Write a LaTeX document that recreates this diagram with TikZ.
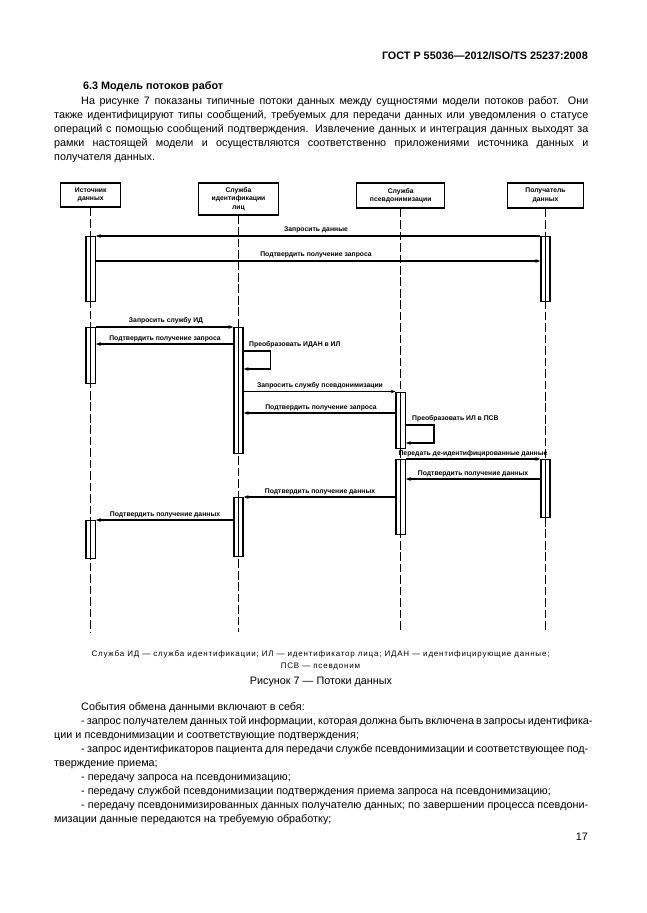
\documentclass[tikz,border=0pt]{standalone}
\usepackage{fontspec}
\setmainfont{Liberation Sans}
\usetikzlibrary{arrows.meta,calc}
\newcommand\dfont{\fontsize{6.3}{7.8}\selectfont\bfseries}
\newcommand\bodyfont{\fontsize{10}{12}\selectfont}
\newcommand\jl[2]{\makebox[#1][s]{#2}}
\tikzset{
  lbl/.style={font=\dfont, inner sep=0pt, anchor=base},
  lblw/.style={font=\dfont, inner sep=0pt, anchor=base west},
  head/.style={draw, line width=1.3pt, font=\dfont, align=center, inner sep=0pt},
  life/.style={line width=1.2pt, dash pattern=on 8pt off 2.6pt},
  bar/.style={draw, fill=white, line width=1.3pt, minimum width=2.93mm, inner sep=0pt, anchor=north},
  barmid/.style={line width=0.6pt},
  msg/.style={line width=1.2pt, -{Stealth[length=1.6mm,width=1.2mm]}},
  bodyw/.style={font=\bodyfont, inner sep=0pt, anchor=base west},
  bodyc/.style={font=\bodyfont, inner sep=0pt, anchor=base},
  bodye/.style={font=\bodyfont, inner sep=0pt, anchor=base east},
  legend/.style={inner sep=0pt, anchor=base, font=\fontsize{7.4}{8}\selectfont\addfontfeatures{LetterSpace=10}},
}
\begin{document}
\begin{tikzpicture}[x=0.3252mm,y=-0.3252mm]
\useasboundingbox (0,0) rectangle (646,913);
\fill[white] (0,0) rectangle (646,913);

% ---------- page text ----------
\node[bodye, font=\bodyfont\bfseries] (hdr) at (588,59) {ГОСТ Р 55036—2012/ISO/TS 25237:2008};
\node[bodyw, font=\bodyfont\bfseries] (sec) at (83,89.5) {6.3 Модель потоков работ};
\node[bodyw] (p1) at (81,104.5) {\jl{164.9mm}{На  рисунке 7 показаны типичные потоки данных между сущностями модели потоков работ. Они}};
\node[bodyw] (p2) at (54,118.5) {\jl{173.7mm}{также  идентифицируют типы сообщений, требуемых для передачи данных или уведомления о статусе}};
\node[bodyw] (p3) at (54,132.5) {\jl{173.7mm}{операций с помощью сообщений подтверждения. Извлечение данных и интеграция данных выходят за}};
\node[bodyw] (p4) at (54,146.5) {\jl{173.7mm}{рамки настоящей модели и осуществляются соответственно приложениями источника данных и}};
\node[bodyw] (p5) at (54,160) {получателя данных.};

% ---------- diagram: heads ----------
\node[head, minimum width=19.51mm, minimum height=7.80mm] (h1) at (90.7,195) {Источник\\данных};
\node[head, minimum width=26.0mm, minimum height=10.41mm] (h2) at (238.5,199) {Служба\\идентификации\\лиц};
\node[head, minimum width=28.62mm, minimum height=8.13mm] (h3) at (400.7,195.5) {Служба\\псевдонимизации};
\node[head, minimum width=24.72mm, minimum height=8.13mm] (h4) at (545.5,195.5) {Получатель\\данных};

\coordinate (e1) at (90.7,632);
\coordinate (e2) at (238.5,632);
\coordinate (e3) at (400.7,632);
\coordinate (e4) at (545.5,632);
\draw[life] (h1.south) -- (e1);
\draw[life] (h2.south) -- (e2);
\draw[life] (h3.south) -- (e3);
\draw[life] (h4.south) -- (e4);

% ---------- activation bars ----------
\node[bar, minimum height=21.14mm] (b1a) at (90.7,236) {};
\node[bar, minimum height=21.14mm] (b4a) at (545.5,236) {};
\node[bar, minimum height=18.21mm] (b1b) at (90.7,327) {};
\node[bar, minimum height=40.98mm] (b2a) at (238.5,327) {};
\node[bar, minimum height=18.37mm] (b3a) at (400.7,391.5) {};
\node[bar, minimum height=24.39mm] (b3b) at (400.7,459) {};
\node[bar, minimum height=18.86mm] (b4b) at (545.5,459) {};
\node[bar, minimum height=19.19mm] (b2b) at (238.5,497) {};
\node[bar, minimum height=12.36mm] (b1c) at (90.7,520) {};
\foreach \b in {b1a,b4a,b1b,b2a,b3a,b3b,b4b,b2b,b1c}
  \draw[barmid] (\b.north) -- (\b.south);

% ---------- messages ----------
\draw[msg] (b4a.north west) -- (b1a.north east);
\node[lbl] (l1) at (316,231) {Запросить данные};

\draw[msg] ($(b1a.north east)+(0,25)$) -- ($(b4a.north west)+(0,25)$);
\node[lbl] (l2) at (316,256) {Подтвердить получение запроса};

\draw[msg] (b1b.north east) -- (b2a.north west);
\node[lbl] (l3) at (166,322) {Запросить службу ИД};

\draw[msg] ($(b2a.north west)+(0,17)$) -- ($(b1b.north east)+(0,17)$);
\node[lbl] (l4) at (165,340) {Подтвердить получение запроса};

\draw[msg] ($(b2a.north east)+(0,24)$) -- ++(26.5,0) -- ++(0,18) -- ($(b2a.north east)+(0,42)$);
\node[lblw] (l5) at (249,346) {Преобразовать ИДАН в ИЛ};

\draw[msg] ($(b2a.north east)+(0,64.5)$) -- (b3a.north west);
\node[lbl] (l6) at (320,387) {Запросить службу псевдонимизации};

\draw[msg] ($(b3a.north west)+(0,21.5)$) -- ($(b2a.north east)+(0,86)$);
\node[lbl] (l7) at (321,409) {Подтвердить получение запроса};

\draw[msg] ($(b3a.north east)+(0,33.5)$) -- ++(28,0) -- ++(0,18) -- ($(b3a.north east)+(0,51.5)$);
\node[lblw] (l8) at (412,420) {Преобразовать ИЛ в ПСВ};

\draw[msg] (b3b.north east) -- (b4b.north west);
\node[lbl] (l9) at (473,455) {Передать де-идентифицированные данные};

\draw[msg] ($(b4b.north west)+(0,20)$) -- ($(b3b.north east)+(0,20)$);
\node[lbl] (l10) at (473,475) {Подтвердить получение данных};

\draw[msg] ($(b3b.north west)+(0,38)$) -- (b2b.north east);
\node[lbl] (l11) at (320,493) {Подтвердить получение данных};

\draw[msg] ($(b2b.north west)+(0,23)$) -- (b1c.north east);
\node[lbl] (l12) at (165,516) {Подтвердить получение данных};

% ---------- caption ----------
\node[legend] (leg1) at (320.5,656)
  {Служба ИД  —  служба идентификации; ИЛ  —  идентификатор лица; ИДАН  —  идентифицирующие данные;};
\node[legend] (leg2) at (320.5,668) {ПСВ  —  псевдоним};
\node[bodyc] (cap) at (321,684) {Рисунок 7 — Потоки данных};

% ---------- list ----------
\node[bodyw] (q0) at (81,710) {События обмена данными включают в себя:};
\node[bodyw] (q1) at (81,724) {\jl{164.9mm}{- запрос получателем данных той информации, которая должна быть включена в запросы идентифика-}};
\node[bodyw] (q2) at (54,738) {ции и псевдонимизации и соответствующие подтверждения;};
\node[bodyw] (q3) at (81,752) {\jl{164.9mm}{- запрос идентификаторов пациента для передачи службе псевдонимизации и соответствующее под-}};
\node[bodyw] (q4) at (54,766) {тверждение приема;};
\node[bodyw] (q5) at (81,780) {- передачу запроса на псевдонимизацию;};
\node[bodyw] (q6) at (81,794) {- передачу службой псевдонимизации подтверждения приема запроса на псевдонимизацию;};
\node[bodyw] (q7) at (81,808) {\jl{164.9mm}{- передачу псевдонимизированных данных получателю данных; по завершении процесса псевдони-}};
\node[bodyw] (q8) at (54,822) {мизации данные передаются на требуемую обработку;};
\node[bodye] (pg) at (588,840) {17};
\end{tikzpicture}
\end{document}
